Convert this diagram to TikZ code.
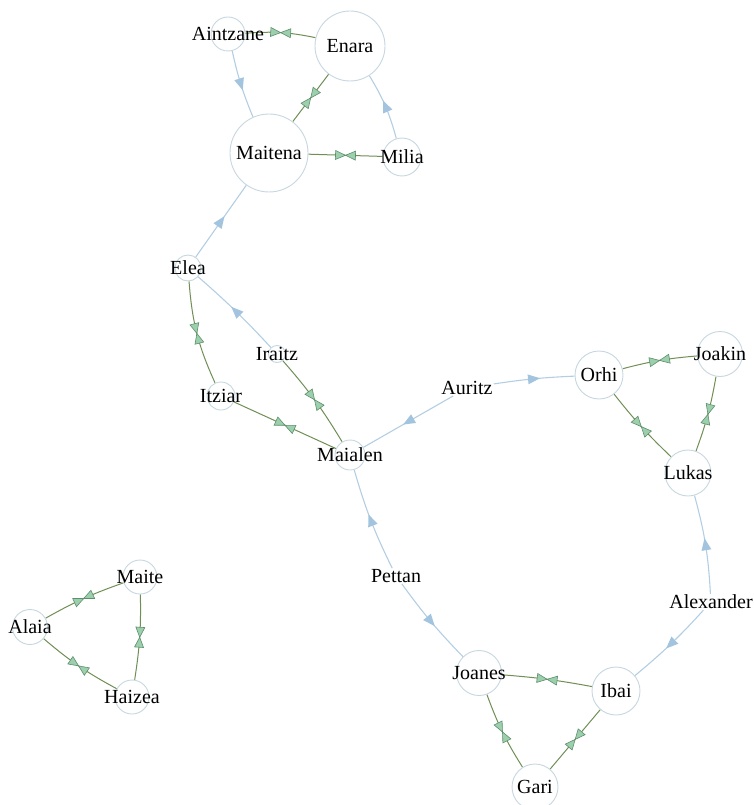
\documentclass[tikz,border=0pt]{standalone}
\usepackage{fontspec}
\setmainfont{Liberation Serif}
\usetikzlibrary{decorations.markings}
\pgfdeclarelayer{edges}
\pgfsetlayers{edges,main}

\definecolor{ringcol}{HTML}{C6D7E0}
\definecolor{flowcol}{HTML}{B3CEE3}
\definecolor{flowtip}{HTML}{A3C4DE}
\definecolor{mutualcol}{HTML}{6F8F55}
\definecolor{mutualfill}{HTML}{9CCFAE}
\definecolor{mutualtip}{HTML}{5F8F6A}

\tikzset{
  person/.style={circle, draw=ringcol, line width=0.9pt, fill=white, inner sep=0pt},
  lab/.style={font=\fontsize{20}{23}\selectfont, text=black, inner sep=1pt},
  flow/.style={draw=flowcol, line width=1.1pt, postaction={decorate},
    decoration={markings, mark=at position 0.5 with
      {\fill[flowtip] (6pt,0pt) -- (-6pt,5pt) -- (-6pt,-5pt) -- cycle;}}},
  mutual/.style={draw=mutualcol, line width=1pt, postaction={decorate},
    decoration={markings, mark=at position 0.5 with
      {\filldraw[fill=mutualfill, draw=mutualtip, line width=0.6pt]
        (0pt,0pt) -- (-10pt,4.5pt) -- (-10pt,-4.5pt) -- cycle
        (0pt,0pt) -- (10pt,4.5pt) -- (10pt,-4.5pt) -- cycle;}}},
}

\begin{document}
\begin{tikzpicture}[x=1pt, y=-1pt]
\useasboundingbox (0,0) rectangle (753,805);

% people drawn as rings with their names on top
\node[person, minimum size=34pt, label={[lab]center:Aintzane}] (Aintzane) at (228,34) {};
\node[person, minimum size=70pt, label={[lab]center:Enara}]    (Enara)    at (350,46) {};
\node[person, minimum size=78pt, label={[lab]center:Maitena}]  (Maitena)  at (269,153) {};
\node[person, minimum size=38pt, label={[lab]center:Milia}]    (Milia)    at (402,157) {};
\node[person, minimum size=26pt, label={[lab]center:Elea}]     (Elea)     at (188,268) {};
\node[person, minimum size=17pt, label={[lab]center:Iraitz}]   (Iraitz)   at (277,354) {};
\node[person, minimum size=28pt, label={[lab]center:Itziar}]   (Itziar)   at (221,396) {};
\node[person, minimum size=30pt, label={[lab]center:Maialen}]  (Maialen)  at (350,455) {};
\node[person, minimum size=48pt, label={[lab]center:Orhi}]     (Orhi)     at (599,375) {};
\node[person, minimum size=45pt, label={[lab]center:Joakin}]   (Joakin)   at (720,354) {};
\node[person, minimum size=46pt, label={[lab]center:Lukas}]    (Lukas)    at (688,473) {};
\node[person, minimum size=45pt, label={[lab]center:Joanes}]   (Joanes)   at (479,673) {};
\node[person, minimum size=48pt, label={[lab]center:Ibai}]     (Ibai)     at (616,691) {};
\node[person, minimum size=46pt, label={[lab]center:Gari}]     (Gari)     at (535,787) {};
\node[person, minimum size=34pt, label={[lab]center:Maite}]    (Maite)    at (140,577) {};
\node[person, minimum size=35pt, label={[lab]center:Alaia}]    (Alaia)    at (30,627) {};
\node[person, minimum size=34pt, label={[lab]center:Haizea}]   (Haizea)   at (132,697) {};

% names without a ring
\node[lab] (Auritz)    at (467,388) {Auritz};
\node[lab] (Pettan)    at (396,576) {Pettan};
\node[lab] (Alexander) at (711,602) {Alexander};

\begin{pgfonlayer}{edges}
  % mutual links
  \draw[mutual] (Aintzane) to[bend left=8] (Enara);
  \draw[mutual] (Maitena) to (Enara);
  \draw[mutual] (Maitena) to (Milia);
  \draw[mutual] (Elea) to[bend right=10] (Itziar);
  \draw[mutual] (Itziar) to (Maialen);
  \draw[mutual] (Iraitz) to[bend left=5] (Maialen);
  \draw[mutual] (Orhi) to[bend left=5] (Joakin);
  \draw[mutual] (Orhi) to[bend right=4] (Lukas);
  \draw[mutual] (Joakin) to[bend left=5] (Lukas);
  \draw[mutual] (Joanes) to[bend left=3] (Ibai);
  \draw[mutual] (Joanes) to[bend right=6] (Gari);
  \draw[mutual] (Gari) to (Ibai);
  \draw[mutual] (Maite) to[bend right=5] (Alaia);
  \draw[mutual] (Alaia) to[bend right=6] (Haizea);
  \draw[mutual] (Maite) to[bend left=5] (Haizea);
  % one-way links
  \draw[flow] (Aintzane) to[bend right=5] (Maitena);
  \draw[flow] (Milia) to[bend right=8] (Enara);
  \draw[flow] (Elea) to (Maitena);
  \draw[flow] (Iraitz) to[bend right=3] (Elea);
  \draw[flow] (Auritz) to[bend left=3] (Orhi);
  \draw[flow] (Auritz) to (Maialen);
  \draw[flow] (Pettan) to[bend left=5] (Maialen);
  \draw[flow] (Pettan) to[bend right=4] (Joanes);
  \draw[flow] (Alexander) to[bend right=6] (Lukas);
  \draw[flow] (Alexander) to[bend left=4] (Ibai);
\end{pgfonlayer}
\end{tikzpicture}
\end{document}
